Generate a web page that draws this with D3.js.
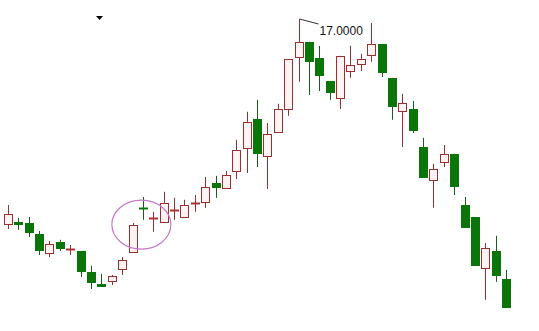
<!DOCTYPE html>
<html>
<head>
<meta charset="utf-8">
<script src="https://cdn.jsdelivr.net/npm/d3@7"></script>
<style>
html,body{margin:0;padding:0;background:#fff;}
svg{display:block;}
</style>
</head>
<body>
<svg id="chart" width="539" height="331"></svg>
<script>
const categories = d3.range(1, 50).map(i => "D" + i);
const open  = [11.88,11.93,11.90,11.63,11.15,11.43,11.23,11.20,10.68,10.38,10.45,10.75,11.18,12.28,12.00,11.93,12.21,12.05,12.38,12.43,12.90,12.78,13.20,13.78,14.50,13.58,14.18,14.75,16.05,16.43,16.03,15.45,15.03,15.70,15.88,16.10,16.38,15.53,14.70,14.75,13.80,12.98,13.43,13.63,12.35,12.05,10.78,11.20,10.50];
const high  = [12.35,12.03,12.05,11.70,11.45,11.48,11.35,11.20,10.83,10.63,10.60,11.05,11.90,12.55,12.18,12.68,12.53,12.48,12.60,13.05,13.08,13.20,13.98,14.68,14.98,14.40,14.88,16.00,17.00,16.43,16.33,15.45,16.08,16.33,16.13,16.90,16.38,15.53,15.13,14.95,14.03,13.38,13.85,13.63,12.55,12.05,11.40,11.58,10.73];
const low   = [11.75,11.73,11.55,11.10,11.05,11.20,11.10,10.55,10.25,10.30,10.35,10.60,11.15,11.98,11.68,11.93,11.98,12.03,12.18,12.28,12.53,12.75,13.00,13.15,13.30,12.75,14.15,14.58,15.43,15.10,15.20,14.98,14.75,15.53,15.70,15.93,15.55,14.48,13.80,14.15,13.03,12.28,13.30,12.60,11.78,10.83,9.98,10.43,9.78];
const close = [12.13,11.85,11.65,11.20,11.38,11.25,11.25,10.68,10.40,10.30,10.58,10.98,11.85,12.25,12.03,12.40,12.23,12.35,12.40,12.80,12.78,13.10,13.73,14.43,13.63,14.13,14.75,16.00,16.43,15.93,15.58,15.15,16.08,15.85,16.00,16.38,15.65,14.80,14.90,14.20,13.03,13.25,13.63,12.80,11.78,10.83,11.28,10.58,9.78];
const highLabel = "17.0000";

const svg = d3.select("#chart");

const step = 10.375;
const x = d3.scaleBand()
  .domain(categories)
  .range([8 - step / 2, 506 + step / 2])
  .paddingInner(0.15)
  .paddingOuter(0.075);

const y = d3.scaleLinear().domain([9.5, 17]).range([319, 19]);

const upStroke = "#9a2f2f";
const upFill = "#fff3f3";
const downFill = "#0a760a";
const downWick = "#1d5a1d";

const data = categories.map((c, i) => ({c, o: open[i], h: high[i], l: low[i], cl: close[i]}));

const g = svg.append("g");
const bw = Math.round(x.bandwidth());

data.forEach(d => {
  const cx = Math.round(x(d.c) + x.bandwidth() / 2) + 0.5;
  const up = d.cl >= d.o;
  const col = up ? upStroke : downWick;
  g.append("line")
    .attr("x1", cx).attr("x2", cx)
    .attr("y1", y(d.h)).attr("y2", y(d.l))
    .attr("stroke", col).attr("stroke-width", 1);
  const top = Math.round(y(Math.max(d.o, d.cl)));
  const bot = Math.round(y(Math.min(d.o, d.cl)));
  const hgt = bot - top;
  const left = cx - 0.5 - Math.floor(bw / 2);
  if (hgt <= 1) {
    g.append("line")
      .attr("x1", left).attr("x2", left + bw)
      .attr("y1", top + 0.5).attr("y2", top + 0.5)
      .attr("stroke", up ? "#b03030" : downFill)
      .attr("stroke-width", 2);
  } else if (up) {
    g.append("rect")
      .attr("x", left + 0.5).attr("y", top + 0.5)
      .attr("width", bw - 1).attr("height", hgt)
      .attr("fill", upFill).attr("stroke", upStroke).attr("stroke-width", 1);
  } else {
    g.append("rect")
      .attr("x", left).attr("y", top)
      .attr("width", bw).attr("height", hgt)
      .attr("fill", downFill);
  }
});

// high annotation
const iMax = d3.maxIndex(high);
const hx = Math.round(x(categories[iMax]) + x.bandwidth() / 2) + 0.5;
const hy = y(high[iMax]);
g.append("line")
  .attr("x1", hx).attr("y1", hy)
  .attr("x2", hx + 19).attr("y2", hy + 5)
  .attr("stroke", "#333").attr("stroke-width", 1);
g.append("text")
  .attr("x", hx + 20).attr("y", hy + 16)
  .attr("font-family", "Liberation Sans, Arial, sans-serif")
  .attr("font-size", 12)
  .attr("fill", "#111")
  .text(highLabel);

// highlight ellipse around the reversal candles
const ex = x(categories[13]) + x.bandwidth() / 2 - 1.5;
g.append("ellipse")
  .attr("cx", ex).attr("cy", y(11.86))
  .attr("rx", 29.5).attr("ry", 24.5)
  .attr("fill", "none").attr("stroke", "#c47ac4").attr("stroke-width", 1.2);

// small marker triangle
svg.append("path")
  .attr("d", "M96,16 L103,16 L99.5,20 Z")
  .attr("fill", "#000");
</script>
</body>
</html>
